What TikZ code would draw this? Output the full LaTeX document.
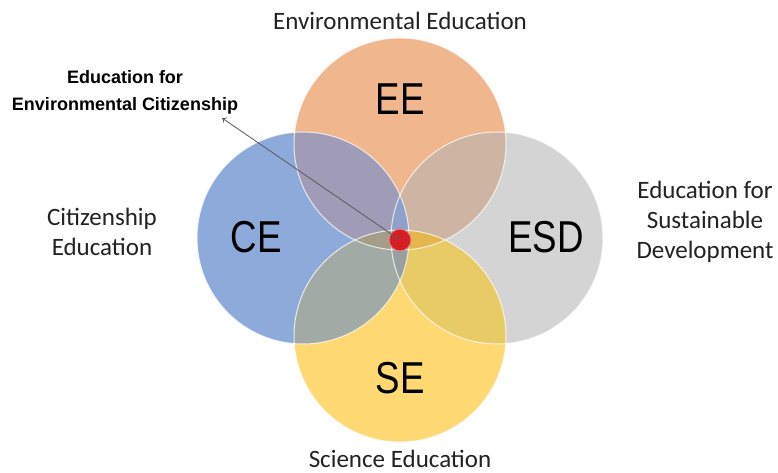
\documentclass[tikz,border=0pt]{standalone}
\usepackage{fontspec}
\setmainfont{Carlito}
\newfontfamily\lblfont[FakeStretch=0.82]{Liberation Sans}
\newfontfamily\boldlbl{Liberation Sans}
\usetikzlibrary{arrows.meta}
\definecolor{cEE}{HTML}{F0B68E}
\definecolor{cCE}{HTML}{8EAADB}
\definecolor{cESD}{HTML}{D4D4D4}
\definecolor{cSE}{HTML}{FDD873}
\definecolor{cEECE}{HTML}{A09CB7}
\definecolor{cEEESD}{HTML}{CEB5A3}
\definecolor{cCESE}{HTML}{A2AAA5}
\definecolor{cESDSE}{HTML}{E8CA66}
\definecolor{cEECEESD}{HTML}{8EA1CA}
\definecolor{cCEESDSE}{HTML}{97A09E}
\definecolor{cEECESE}{HTML}{A39D8A}
\definecolor{cEEESDSE}{HTML}{E5B64E}
\definecolor{cALL}{HTML}{8E9486}
\definecolor{dotred}{HTML}{D41F26}
\definecolor{dotrim}{HTML}{E88080}
\definecolor{arrowgray}{HTML}{5A5A5A}
\definecolor{txt}{HTML}{222222}
\tikzset{
  outer/.style={inner sep=0pt, text=txt, font=\fontsize{25}{30}\selectfont, align=center},
  big/.style={inner sep=0pt, text=black, font=\lblfont\fontsize{44.7}{50}\selectfont},
  boldtxt/.style={inner sep=0pt, text=black, font=\boldlbl\bfseries\fontsize{18}{27}\selectfont, align=center},
  rim/.style={draw=white, draw opacity=0.75, line width=1pt},
  pointer/.style={draw=arrowgray, line width=0.8pt, -{To[length=4pt,width=6pt]}},
}
\newcommand{\R}{106}
\begin{document}
\begin{tikzpicture}[x=1pt,y=1pt]
\useasboundingbox (0,0) rectangle (778,473);
\fill[white] (0,0) rectangle (778,473);
\coordinate (ee) at (400,329);
\coordinate (ce) at (303,235);
\coordinate (esd) at (497,235);
\coordinate (se) at (400,137);
% single circles
\fill[cEE] (ee) circle[radius=\R];
\fill[cCE] (ce) circle[radius=\R];
\fill[cESD] (esd) circle[radius=\R];
\fill[cSE] (se) circle[radius=\R];
% pairwise overlaps
\begin{scope}\clip (ee) circle[radius=\R]; \fill[cEECE] (ce) circle[radius=\R];\end{scope}
\begin{scope}\clip (ee) circle[radius=\R]; \fill[cEEESD] (esd) circle[radius=\R];\end{scope}
\begin{scope}\clip (se) circle[radius=\R]; \fill[cCESE] (ce) circle[radius=\R];\end{scope}
\begin{scope}\clip (se) circle[radius=\R]; \fill[cESDSE] (esd) circle[radius=\R];\end{scope}
% triple overlaps
\begin{scope}\clip (ee) circle[radius=\R]; \clip (ce) circle[radius=\R]; \fill[cEECEESD] (esd) circle[radius=\R];\end{scope}
\begin{scope}\clip (se) circle[radius=\R]; \clip (ce) circle[radius=\R]; \fill[cCEESDSE] (esd) circle[radius=\R];\end{scope}
\begin{scope}\clip (ee) circle[radius=\R]; \clip (se) circle[radius=\R]; \fill[cEECESE] (ce) circle[radius=\R];\end{scope}
\begin{scope}\clip (ee) circle[radius=\R]; \clip (se) circle[radius=\R]; \fill[cEEESDSE] (esd) circle[radius=\R];\end{scope}
% quadruple
\begin{scope}\clip (ee) circle[radius=\R]; \clip (se) circle[radius=\R]; \clip (ce) circle[radius=\R]; \fill[cALL] (esd) circle[radius=\R];\end{scope}
% rims
\draw[rim] (ee) circle[radius=\R];
\draw[rim] (esd) circle[radius=\R];
\draw[rim] (ce) circle[radius=\R];
\draw[rim] (se) circle[radius=\R];
% circle labels
\node[big] (lEE) at (400,374) {EE};
\node[big] (lCE) at (256,236) {CE};
\node[big] (lESD) at (546,236) {ESD};
\node[big] (lSE) at (400,95) {SE};
% outer labels
\node[outer, anchor=base] (tEE) at (400,443) {Environmental Education};
\node[outer] (tCE) at (102,241) {Citizenship\\Education};
\node[outer] (tESD) at (705,251) {Education for\\Sustainable\\Development};
\node[outer, anchor=base] (tSE) at (400,5) {Science Education};
\node[boldtxt] (tEEC) at (125,381) {Education for\\Environmental Citizenship};
% red dot and pointer
\node[circle, fill=dotred, draw=dotrim, line width=1pt, minimum size=22pt, inner sep=0pt] (dot) at (400,233) {};
\coordinate (tip) at (222,355);
\draw[pointer] (dot.center) -- (tip);
\end{tikzpicture}
\end{document}
